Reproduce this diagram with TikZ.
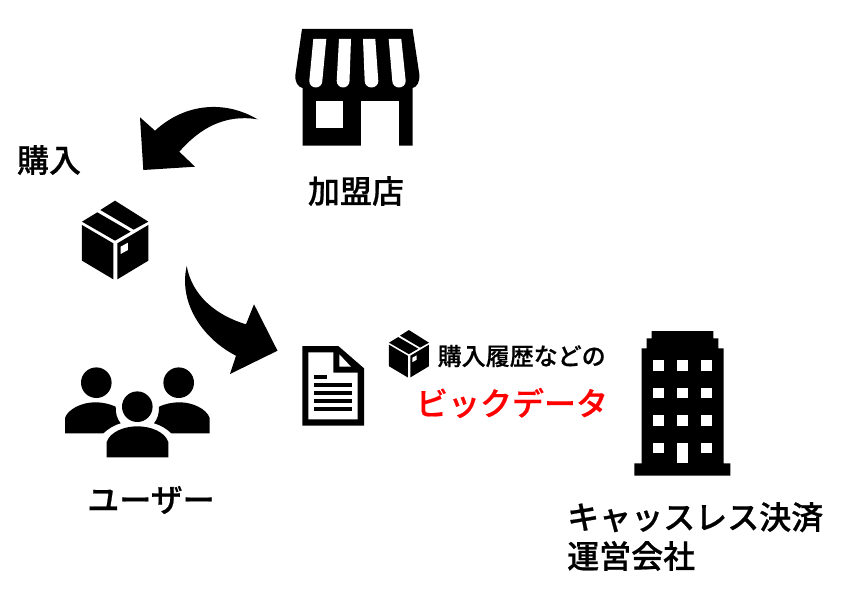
\documentclass[tikz,border=0pt]{standalone}
\usepackage{fontspec}
\setmainfont{Noto Sans CJK JP}[BoldFont={Noto Sans CJK JP Medium},BoldFeatures={FakeBold=0.6}]
\newcommand{\pkgbox}[3]{%
  \begin{scope}[shift={(#1,#2)},scale=#3]
    \fill (66,95) -- (112,67) -- (212,125) -- (165,152) -- cycle;
    \fill (121,60) -- (165,32) -- (265,95) -- (221,119) -- cycle;
    \fill (66,105) -- (160,160) -- (160,268) -- (66,212) -- cycle;
    \fill (172,160) -- (265,105) -- (265,212) -- (172,268) -- cycle;
    \fill[white] (182,170) -- (204,158) -- (204,180) -- (182,192) -- cycle;
  \end{scope}}
\tikzset{
  jplabel/.style={inner sep=0pt,font=\bfseries\fontsize{32}{39}\selectfont,text=black},
  smalllabel/.style={inner sep=0pt,font=\bfseries\fontsize{24}{30}\selectfont,text=black}
}
\begin{document}
\begin{tikzpicture}[x=1pt,y=-1pt]
\path[use as bounding box,fill=white] (0,0) rectangle (857,602);

% store
\fill (302,29) -- (412.5,29) -- (419.3,74)
  .. controls (420,82) and (417,87) .. (412.5,88)
  -- (412.5,145.7) -- (302.5,145.7) -- (302.5,88)
  .. controls (298,87) and (294.5,82) .. (295.5,74) -- cycle;
\fill[white] (313.3,39) -- (326.3,39) -- (322.3,81) arc[start angle=0,end angle=180,x radius=6.5,y radius=6.5] -- cycle;
\fill[white] (339,39) -- (351,39) -- (349.5,81) arc[start angle=0,end angle=180,x radius=6.4,y radius=6.5] -- cycle;
\fill[white] (363,39) -- (375.3,39) -- (378.3,81) arc[start angle=0,end angle=180,x radius=6.8,y radius=6.5] -- cycle;
\fill[white] (388.7,39) -- (401.3,39) -- (405.7,81) arc[start angle=0,end angle=180,x radius=6.7,y radius=6.5] -- cycle;
\fill[white] (316,101) rectangle (343.3,128.3);
\fill[white] (361,101) rectangle (399,146);

% boxes
\pkgbox{60}{190}{0.3333}
\pkgbox{375.7}{323.6}{0.201}

% block arrows
\fill (143.3,170) -- (195,166.7) -- (179.3,151.7)
  .. controls (200,128) and (225,114) .. (257.5,119.3)
  .. controls (225,100) and (185,103) .. (155,130.7)
  -- (140,117.3) -- cycle;
\fill (186.7,266) .. controls (192,295) and (215,315) .. (246,324.3)
  -- (254,304.3) -- (277.5,350.7) -- (230,374) -- (236,355.7)
  .. controls (205,340) and (178,305) .. (186.7,266) -- cycle;

% users
\fill (96.3,382.7) circle[radius=15.3];
\fill (178.7,382.7) circle[radius=15.3];
\fill (137.3,406.7) circle[radius=15.3];
\fill (65,433.3) -- (65,418) .. controls (68,409) and (82,402.3) .. (95,402.3)
  .. controls (103,402.3) and (110,404) .. (115.7,406.7)
  .. controls (115.5,413) and (117,419) .. (120.7,423.3)
  .. controls (114,425) and (108,429) .. (103.3,433.3) -- cycle;
\fill (209.7,433.3) -- (209.7,418) .. controls (206.7,409) and (192.7,402.3) .. (179.7,402.3)
  .. controls (171.7,402.3) and (164.7,404) .. (159,406.7)
  .. controls (159.2,413) and (157.7,419) .. (154,423.3)
  .. controls (160.7,425) and (166.7,429) .. (171.4,433.3) -- cycle;
\fill (106.7,457.3) -- (106.7,442) .. controls (110,432) and (124,426.3) .. (137.3,426.3)
  .. controls (151,426.3) and (165,432) .. (168.3,442) -- (168.3,457.3) -- cycle;

% document
\fill (302.3,346) -- (338.3,346) -- (364,368.3) -- (364,425.7) -- (302.3,425.7) -- cycle;
\fill[white] (308.3,352.3) -- (333.3,352.3) -- (333.3,372.7) -- (357.7,372.7) -- (357.7,419.3) -- (308.3,419.3) -- cycle;
\fill[white] (339.3,354.3) -- (351,366.7) -- (339.3,366.7) -- cycle;
\fill (314,375) rectangle (327,379);
\fill (314,383) rectangle (352,387);
\fill (314,391) rectangle (352,395);
\fill (314,399) rectangle (352,403);
\fill (314,407) rectangle (352,411);

% building
\fill (651.7,331) -- (713.3,331) -- (713.3,338.3) -- (718.3,338.3) -- (718.3,348.3) -- (723.7,348.3)
  -- (723.7,463.3) -- (730.3,463.3) -- (730.3,475.7) -- (634.3,475.7) -- (634.3,463.3) -- (641.7,463.3)
  -- (641.7,348.3) -- (646.7,348.3) -- (646.7,338.3) -- (651.7,338.3) -- cycle;
\foreach \wy in {360.3,388,415.3}{
  \foreach \wx in {653,677.3,701.3}{
    \fill[white] (\wx,\wy) rectangle ++(10.5,10.4);
  }
}
\fill[white] (653,443) rectangle ++(10.5,10);
\fill[white] (701.3,443) rectangle ++(10.5,10);
\fill[white] (677.3,443) rectangle ++(10.5,20.3);

% labels
\node[jplabel] (store) at (356,191) {加盟店};
\node[jplabel] (buy) at (49,160) {購入};
\node[jplabel] (user) at (151,500) {ユーザー};
\node[jplabel,anchor=west,align=left] (company) at (567,536.5) {キャッスレス決済\\運営会社};
\node[smalllabel,anchor=west] (history) at (437.5,356) {購入履歴などの};
\node[jplabel,text=red] (bigdata) at (512,403) {ビックデータ};
\end{tikzpicture}
\end{document}
